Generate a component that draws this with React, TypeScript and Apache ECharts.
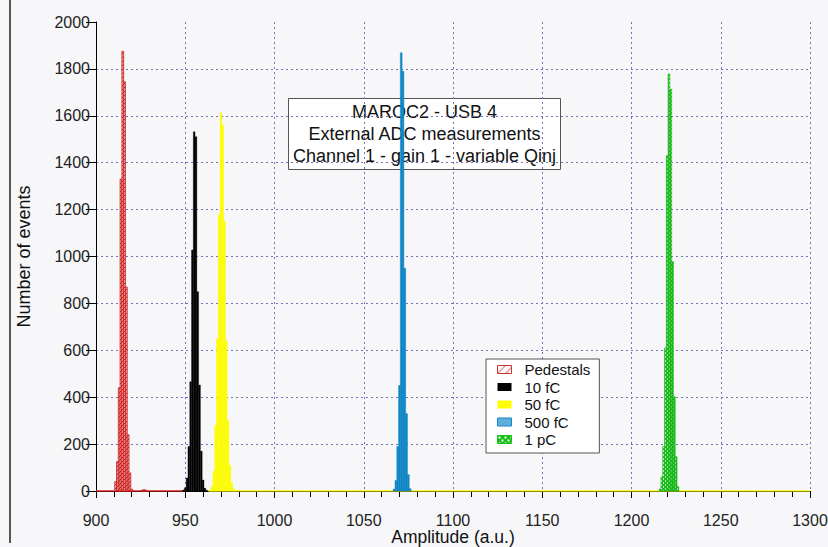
import React, { useEffect, useRef } from "react";
import * as echarts from "echarts";

// Histogram bins (amplitude in ADC units) and their event counts
const pedestalsAmp = [911, 912, 913, 914, 915, 916, 917, 918, 919, 920, 926, 927, 928];
const pedestalsCounts = [40, 125, 440, 1330, 1875, 1745, 870, 240, 77, 8, 4, 6, 3];

const q10fCAmp = [949, 950, 951, 952, 953, 954, 955, 956, 957, 958, 959, 960, 961, 962];
const q10fCCounts = [4, 14, 55, 190, 466, 1028, 1532, 1511, 850, 452, 170, 47, 12, 3];

const q50fCAmp = [964, 965, 966, 967, 968, 969, 970, 971, 972, 973, 974, 975, 976, 977, 978];
const q50fCCounts = [5, 20, 85, 280, 650, 1180, 1613, 1560, 1150, 640, 300, 110, 35, 10, 3];

const q500fCAmp = [1067, 1068, 1069, 1070, 1071, 1072, 1073, 1074, 1075, 1076];
const q500fCCounts = [8, 45, 190, 450, 1869, 1790, 950, 330, 70, 10];

const q1pCAmp = [1216, 1217, 1218, 1219, 1220, 1221, 1222, 1223, 1224, 1225, 1226];
const q1pCCounts = [8, 60, 190, 610, 1430, 1778, 1713, 978, 402, 146, 18];

// Empty-histogram stretches drawn along the zero line
const pedestalsZeroRange = [900, 949];
const q50fCZeroRange = [963, 1300];

const seriesNames = ["Pedestals", "10 fC", "50 fC", "500 fC", "1 pC"];
const titleLines = ["MAROC2 - USB 4", "External ADC measurements", "Channel 1 - gain 1 - variable Qinj"];

const xMin = 900;
const xMax = 1300;
const xStep = 50;
const yMin = 0;
const yMax = 2000;
const yStep = 200;

const FONT = '"Liberation Sans", Arial, Helvetica, sans-serif';

type Painter = (ctx: CanvasRenderingContext2D) => void;

function makePattern(w: number, h: number, paint: Painter) {
  const c = document.createElement("canvas");
  c.width = w;
  c.height = h;
  const ctx = c.getContext("2d") as CanvasRenderingContext2D;
  paint(ctx);
  return { image: c.toDataURL(), repeat: "repeat", imageWidth: w, imageHeight: h };
}

function zip(a: number[], b: number[]) {
  return a.map((v, i) => [v, b[i]]);
}

function histogram(fill: any, stroke: string | null, lineWidth: number) {
  return (_params: any, api: any) => {
    const amp = api.value(0);
    const n = api.value(1);
    const p0 = api.coord([amp - 0.5, 0]);
    const p1 = api.coord([amp + 0.5, n]);
    return {
      type: "rect",
      shape: { x: p0[0], y: p1[1], width: p1[0] - p0[0], height: p0[1] - p1[1] },
      style: { fill, stroke: stroke || undefined, lineWidth: stroke ? lineWidth : 0 },
    };
  };
}

const plain = (v: number) => String(v);

export default function App() {
  const ref = useRef<HTMLDivElement>(null);

  useEffect(() => {
    if (!ref.current) return;
    const chart = echarts.init(ref.current, null, { renderer: "svg" });

    // Fill patterns
    const pedestalsFill = makePattern(4, 4, (ctx) => {
      ctx.fillStyle = "#f0a2a2";
      ctx.fillRect(0, 0, 4, 4);
      ctx.strokeStyle = "#cc1f1f";
      ctx.lineWidth = 1;
      ctx.beginPath();
      ctx.moveTo(0, 4);
      ctx.lineTo(4, 0);
      ctx.stroke();
    });
    const pedestalsKey = makePattern(8, 8, (ctx) => {
      ctx.fillStyle = "#ffffff";
      ctx.fillRect(0, 0, 8, 8);
      ctx.strokeStyle = "#d03030";
      ctx.lineWidth = 1;
      ctx.beginPath();
      ctx.moveTo(0, 8);
      ctx.lineTo(8, 0);
      ctx.stroke();
    });
    const blueKey = makePattern(2, 2, (ctx) => {
      ctx.fillStyle = "#a8d6f0";
      ctx.fillRect(0, 0, 2, 2);
      ctx.fillStyle = "#1487c8";
      ctx.fillRect(0, 0, 1, 2);
    });
    const greenFill = makePattern(4, 4, (ctx) => {
      ctx.fillStyle = "#1cbf1c";
      ctx.fillRect(0, 0, 4, 4);
      ctx.fillStyle = "#d8f5d8";
      ctx.fillRect(1, 0, 1, 2);
      ctx.fillRect(3, 2, 1, 2);
    });
    const greenKey = makePattern(6, 6, (ctx) => {
      ctx.fillStyle = "#16c016";
      ctx.fillRect(0, 0, 6, 6);
      ctx.fillStyle = "#ffffff";
      ctx.fillRect(1, 1, 2, 2);
      ctx.fillRect(4, 4, 2, 2);
    });

    const gridLine = { show: true, lineStyle: { color: "#7474b4", width: 1, type: [2, 3] as any } };

    const zeroLine = (name: string, range: number[], color: string) => ({
      name,
      type: "line",
      data: [[range[0], 0], [range[1], 0]],
      showSymbol: false,
      silent: true,
      z: 3,
      lineStyle: { color, width: 1.5 },
    });

    chart.setOption({
      animation: false,
      backgroundColor: "#f7f7f9",
      textStyle: { fontFamily: FONT },
      grid: {
        left: 96,
        right: 18,
        top: 22,
        bottom: 56,
        containLabel: false,
        outerBoundsMode: "none",
      },
      xAxis: {
        type: "value",
        min: xMin,
        max: xMax,
        interval: xStep,
        name: "Amplitude (a.u.)",
        nameLocation: "middle",
        nameGap: 46,
        nameMoveOverlap: false,
        nameTextStyle: { fontSize: 17.5, color: "#111", fontFamily: FONT, verticalAlign: "middle" },
        axisLine: { show: true, onZero: false, lineStyle: { color: "#000", width: 1 } },
        axisTick: { show: true, inside: false, length: 7, lineStyle: { color: "#000" } },
        minorTick: { show: true, splitNumber: 5, length: 6, lineStyle: { color: "#000" } },
        axisLabel: { margin: 21, fontSize: 16, color: "#222", fontFamily: FONT, formatter: plain },
        splitLine: { ...gridLine, showMinLine: false },
      },
      yAxis: {
        type: "value",
        min: yMin,
        max: yMax,
        interval: yStep,
        name: "Number of events",
        nameLocation: "middle",
        nameGap: 63,
        nameMoveOverlap: false,
        nameTextStyle: { fontSize: 18, color: "#111", fontFamily: FONT },
        axisLine: { show: true, lineStyle: { color: "#000", width: 1 } },
        axisTick: { show: true, inside: false, length: 10, lineStyle: { color: "#000" } },
        axisLabel: { margin: 6, fontSize: 16, color: "#222", fontFamily: FONT, formatter: plain },
        splitLine: { ...gridLine, showMinLine: false, showMaxLine: false },
      },
      legend: {
        orient: "vertical",
        left: 486,
        top: 359,
        padding: [3, 9, 6, 11],
        itemWidth: 14,
        itemHeight: 8,
        itemGap: 2.5,
        selectedMode: false,
        backgroundColor: "#ffffff",
        borderColor: "#555",
        borderWidth: 1,
        textStyle: { fontSize: 15, color: "#111", fontFamily: FONT, padding: [0, 0, 0, 8] },
        data: [
          { name: seriesNames[0], icon: "rect", itemStyle: { color: pedestalsKey, borderColor: "#d03030", borderWidth: 1 } },
          { name: seriesNames[1], icon: "rect", itemStyle: { color: "#000000" } },
          { name: seriesNames[2], icon: "rect", itemStyle: { color: "#ffff00" } },
          { name: seriesNames[3], icon: "rect", itemStyle: { color: blueKey, borderColor: "#1487c8", borderWidth: 1 } },
          { name: seriesNames[4], icon: "rect", itemStyle: { color: greenKey, borderColor: "#16c016", borderWidth: 1 } },
        ],
      },
      graphic: [
        {
          type: "line",
          shape: { x1: 10, y1: 0, x2: 10, y2: 543 },
          style: { stroke: "#222", lineWidth: 1.5 },
          silent: true,
        },
        {
          type: "group",
          left: 288,
          top: 98,
          children: [
            {
              type: "rect",
              shape: { x: 0, y: 0, width: 272, height: 71 },
              style: { fill: "#ffffff", stroke: "#555", lineWidth: 1 },
            },
            {
              type: "text",
              x: 136,
              y: 2,
              style: {
                text: titleLines.join("\n"),
                font: `18px ${FONT}`,
                fill: "#111",
                align: "center",
                verticalAlign: "top",
                lineHeight: 22,
              },
            },
          ],
        },
      ],
      series: [
        zeroLine("pedestals-zero", pedestalsZeroRange, "#e02020"),
        zeroLine("50fC-zero", q50fCZeroRange, "#ffff00"),
        {
          name: seriesNames[0],
          type: "custom",
          renderItem: histogram(pedestalsFill, "#cc1f1f", 0.8),
          encode: { x: 0, y: 1 },
          data: zip(pedestalsAmp, pedestalsCounts),
          itemStyle: { color: "#e05050" },
          z: 4,
        },
        {
          name: seriesNames[1],
          type: "custom",
          renderItem: histogram("#000000", "#000000", 0.3),
          encode: { x: 0, y: 1 },
          data: zip(q10fCAmp, q10fCCounts),
          itemStyle: { color: "#000000" },
          z: 4,
        },
        {
          name: seriesNames[2],
          type: "custom",
          renderItem: histogram("#ffff00", "#f4f400", 0.3),
          encode: { x: 0, y: 1 },
          data: zip(q50fCAmp, q50fCCounts),
          itemStyle: { color: "#ffff00" },
          z: 4,
        },
        {
          name: seriesNames[3],
          type: "custom",
          renderItem: histogram("#0d88c9", "#0a7dbd", 0.4),
          encode: { x: 0, y: 1 },
          data: zip(q500fCAmp, q500fCCounts),
          itemStyle: { color: "#0d88c9" },
          z: 4,
        },
        {
          name: seriesNames[4],
          type: "custom",
          renderItem: histogram(greenFill, "#12b012", 0.6),
          encode: { x: 0, y: 1 },
          data: zip(q1pCAmp, q1pCCounts),
          itemStyle: { color: "#1cbf1c" },
          z: 4,
        },
      ],
    });

    return () => chart.dispose();
  }, []);

  return (
    <div
      ref={ref}
      style={{ position: "absolute", left: 0, top: 0, width: 828, height: 547 }}
    />
  );
}
